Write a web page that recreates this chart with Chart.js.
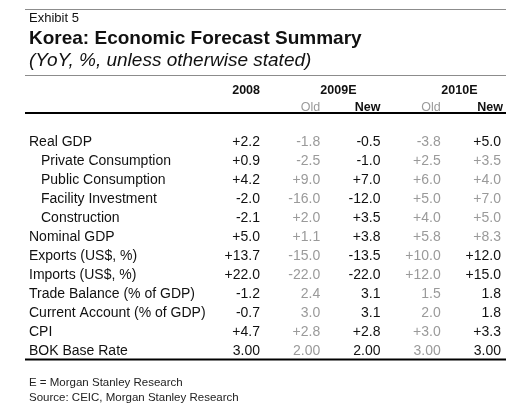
<!DOCTYPE html>
<html>
<head>
<meta charset="utf-8">
<script src="https://cdn.jsdelivr.net/npm/chart.js@4"></script>
<style>
  html, body { margin: 0; padding: 0; background: #fff; }
  #wrap { width: 520px; height: 410px; }
</style>
</head>
<body>
<div id="wrap"><canvas id="table" width="520" height="410"></canvas></div>
<script>
const exhibitLabel = 'Exhibit 5';
const titleText = 'Korea: Economic Forecast Summary';
const subtitleText = '(YoY, %, unless otherwise stated)';
const footnotes = ['E = Morgan Stanley Research', 'Source: CEIC, Morgan Stanley Research'];

const yearHeaders = ['2008', '2009E', '2010E'];
const columns = ['2008', '2009E Old', '2009E New', '2010E Old', '2010E New'];
const subHeaders = ['', 'Old', 'New', 'Old', 'New'];

const rowLabels = [
  'Real GDP', 'Private Consumption', 'Public Consumption', 'Facility Investment',
  'Construction', 'Nominal GDP', 'Exports (US$, %)', 'Imports (US$, %)',
  'Trade Balance (% of GDP)', 'Current Account (% of GDP)', 'CPI', 'BOK Base Rate'
];
const rowIndent = [0, 1, 1, 1, 1, 0, 0, 0, 0, 0, 0, 0];
const rowFormat = ['sign', 'sign', 'sign', 'sign', 'sign', 'sign', 'sign', 'sign',
                   'plain', 'plain', 'sign', 'rate'];

const values2008 = [2.2, 0.9, 4.2, -2.0, -2.1, 5.0, 13.7, 22.0, -1.2, -0.7, 4.7, 3.00];
const old2009    = [-1.8, -2.5, 9.0, -16.0, 2.0, 1.1, -15.0, -22.0, 2.4, 3.0, 2.8, 2.00];
const new2009    = [-0.5, -1.0, 7.0, -12.0, 3.5, 3.8, -13.5, -22.0, 3.1, 3.1, 2.8, 2.00];
const old2010    = [-3.8, 2.5, 6.0, 5.0, 4.0, 5.8, 10.0, 12.0, 1.5, 2.0, 3.0, 3.00];
const new2010    = [5.0, 3.5, 4.0, 7.0, 5.0, 8.3, 12.0, 15.0, 1.8, 1.8, 3.3, 3.00];
// cells printed in grey in the 2010E New column
const new2010Grey = [false, true, true, true, true, true, false, false, false, false, false, false];

// --- styles ---
const FONT = '"Liberation Sans", Arial, sans-serif';
const BLACK = '#111';
const GREY = '#9a9a9a';

function fmt(v, kind) {
  if (kind === 'rate') return v.toFixed(2);
  const s = v.toFixed(1);
  if (kind === 'sign' && v > 0) return '+' + s;
  return s;
}

function makeDataset(col, vals, colorFn) {
  return {
    label: col,
    data: vals.map((v, i) => ({ x: col, y: rowLabels[i], v: v })),
    cellColor: colorFn,
    pointRadius: 0,
    pointHoverRadius: 0,
    showLine: false
  };
}

const datasets = [
  makeDataset(columns[0], values2008, () => BLACK),
  makeDataset(columns[1], old2009, () => GREY),
  makeDataset(columns[2], new2009, () => BLACK),
  makeDataset(columns[3], old2010, () => GREY),
  makeDataset(columns[4], new2010, i => new2010Grey[i] ? GREY : BLACK)
];

function hline(ctx, x1, x2, y, w, color) {
  ctx.beginPath();
  ctx.strokeStyle = color;
  ctx.lineWidth = w;
  ctx.moveTo(x1, y);
  ctx.lineTo(x2, y);
  ctx.stroke();
}

const tableText = {
  id: 'tableText',
  beforeDraw(chart) {
    const { ctx } = chart;
    ctx.save();
    ctx.fillStyle = '#fff';
    ctx.fillRect(0, 0, chart.width, chart.height);
    ctx.restore();
  },
  afterDatasetsDraw(chart) {
    const { ctx, chartArea, scales } = chart;
    const xs = scales.x, ys = scales.y;
    ctx.save();
    ctx.textBaseline = 'alphabetic';

    // rules
    hline(ctx, 25, 506, 9.5, 1, '#8c8c8c');
    hline(ctx, 25, 506, 75.5, 1, '#8c8c8c');
    hline(ctx, 25, 506, 113, 2, '#000');
    hline(ctx, 25, 506, chartArea.bottom, 2, '#000');

    // titles
    ctx.textAlign = 'left';
    ctx.fillStyle = BLACK;
    ctx.font = '13px ' + FONT;
    ctx.fillText(exhibitLabel, 29, 21.5);
    ctx.font = 'bold 19px ' + FONT;
    ctx.fillText(titleText, 29, 43.5);
    ctx.font = 'italic 19px ' + FONT;
    ctx.fillText(subtitleText, 29, 66);

    // column headers
    ctx.textAlign = 'right';
    ctx.font = 'bold 12.5px ' + FONT;
    ctx.fillStyle = BLACK;
    ctx.fillText(yearHeaders[0], xs.getPixelForValue(0), 93.5);
    ctx.fillText(yearHeaders[1], xs.getPixelForValue(2) - 24, 93.5);
    ctx.fillText(yearHeaders[2], xs.getPixelForValue(4) - 23.5, 93.5);
    subHeaders.forEach((h, c) => {
      if (!h) return;
      const old = h === 'Old';
      ctx.font = (old ? '' : 'bold ') + '12.5px ' + FONT;
      ctx.fillStyle = old ? GREY : BLACK;
      ctx.fillText(h, xs.getPixelForValue(c) + (c === 4 ? 2 : 0), 111);
    });

    // row labels
    ctx.textAlign = 'left';
    ctx.font = '14px ' + FONT;
    ctx.fillStyle = BLACK;
    rowLabels.forEach((lab, i) => {
      ctx.fillText(lab, 29 + rowIndent[i] * 12, ys.getPixelForValue(i) + 5);
    });

    // cells, placed by the chart's own scales
    ctx.textAlign = 'right';
    chart.data.datasets.forEach((ds, d) => {
      const meta = chart.getDatasetMeta(d);
      meta.data.forEach((el, i) => {
        ctx.fillStyle = ds.cellColor(i);
        ctx.fillText(fmt(ds.data[i].v, rowFormat[i]), el.x, el.y + 5);
      });
    });

    // footnotes
    ctx.textAlign = 'left';
    ctx.font = '11.5px ' + FONT;
    ctx.fillStyle = '#222';
    ctx.fillText(footnotes[0], 29, 386);
    ctx.fillText(footnotes[1], 29, 400.5);
    ctx.restore();
  }
};

new Chart(document.getElementById('table'), {
  type: 'scatter',
  data: { datasets: datasets },
  options: {
    responsive: false,
    animation: false,
    events: [],
    layout: { padding: { left: 260, right: 19, top: 131.2, bottom: 50.4 } },
    scales: {
      x: { type: 'category', labels: columns, offset: false, display: false },
      y: { type: 'category', labels: rowLabels, offset: true, display: false }
    },
    plugins: {
      legend: { display: false },
      tooltip: { enabled: false }
    }
  },
  plugins: [tableText]
});
</script>
</body>
</html>
